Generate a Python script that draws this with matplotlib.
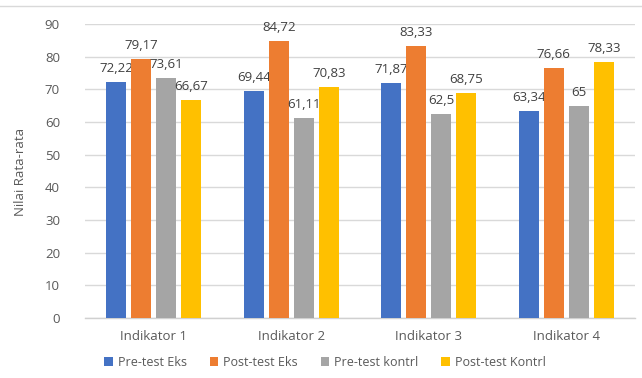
import numpy as np
import matplotlib.pyplot as plt

categories = ['Indikator 1', 'Indikator 2', 'Indikator 3', 'Indikator 4']
series_names = ['Pre-test Eks', 'Post-test Eks', 'Pre-test kontrl', 'Post-test Kontrl']
pre_eks = [72.22, 69.44, 71.87, 63.34]
post_eks = [79.17, 84.72, 83.33, 76.66]
pre_kontrl = [73.61, 61.11, 62.5, 65]
post_kontrl = [66.67, 70.83, 68.75, 78.33]
colors = ['#4472C4', '#ED7D31', '#A5A5A5', '#FFC000']

plt.rcParams['font.family'] = ['Open Sans', 'DejaVu Sans']

fig = plt.figure(figsize=(6.42, 3.78), dpi=100)
ax = fig.add_axes([85 / 642, 1 - 318 / 378, 550 / 642, 294 / 378])

x = np.arange(len(categories))
width = 0.145
step = 0.182
data = [pre_eks, post_eks, pre_kontrl, post_kontrl]

for i, (name, vals) in enumerate(zip(series_names, data)):
    pos = x + (i - 1.5) * step
    bars = ax.bar(pos, vals, width, color=colors[i], label=name, zorder=3)
    labels = [('%g' % v).replace('.', ',') for v in vals]
    ax.bar_label(bars, labels=labels, padding=5, fontsize=9.5, color='#404040')

ax.set_xlim(-0.5, 3.5)
ax.set_ylim(0, 90)
ax.set_yticks(np.arange(0, 91, 10))
ax.set_xticks(x)
ax.set_xticklabels(categories)
ax.tick_params(axis='both', length=0, labelsize=9.5, colors='#595959')
ax.tick_params(axis='y', pad=18)
ax.tick_params(axis='x', pad=9)
ax.grid(axis='y', color='#D9D9D9', linewidth=1, zorder=0)
for s in ['top', 'right', 'left']:
    ax.spines[s].set_visible(False)
ax.spines['bottom'].set_color('#D0D0D0')
ax.spines['bottom'].set_linewidth(1)

fig.text(21 / 642, 1 - 172 / 378, 'Nilai Rata-rata', rotation=90,
         ha='center', va='center', fontsize=9.5, color='#595959')

# thin border line at the top of the picture
fig.add_artist(plt.Line2D([0, 1], [1 - 6 / 378, 1 - 6 / 378],
                          color='#D9D9D9', linewidth=1, transform=fig.transFigure))

fig.legend(loc='center', bbox_to_anchor=(325 / 642, 1 - 362 / 378), ncol=4, frameon=False,
           fontsize=9, handlelength=0.7, handleheight=0.7, columnspacing=1.8,
           handletextpad=0.4, labelcolor='#595959')

fig.savefig('out.png', dpi=100)
